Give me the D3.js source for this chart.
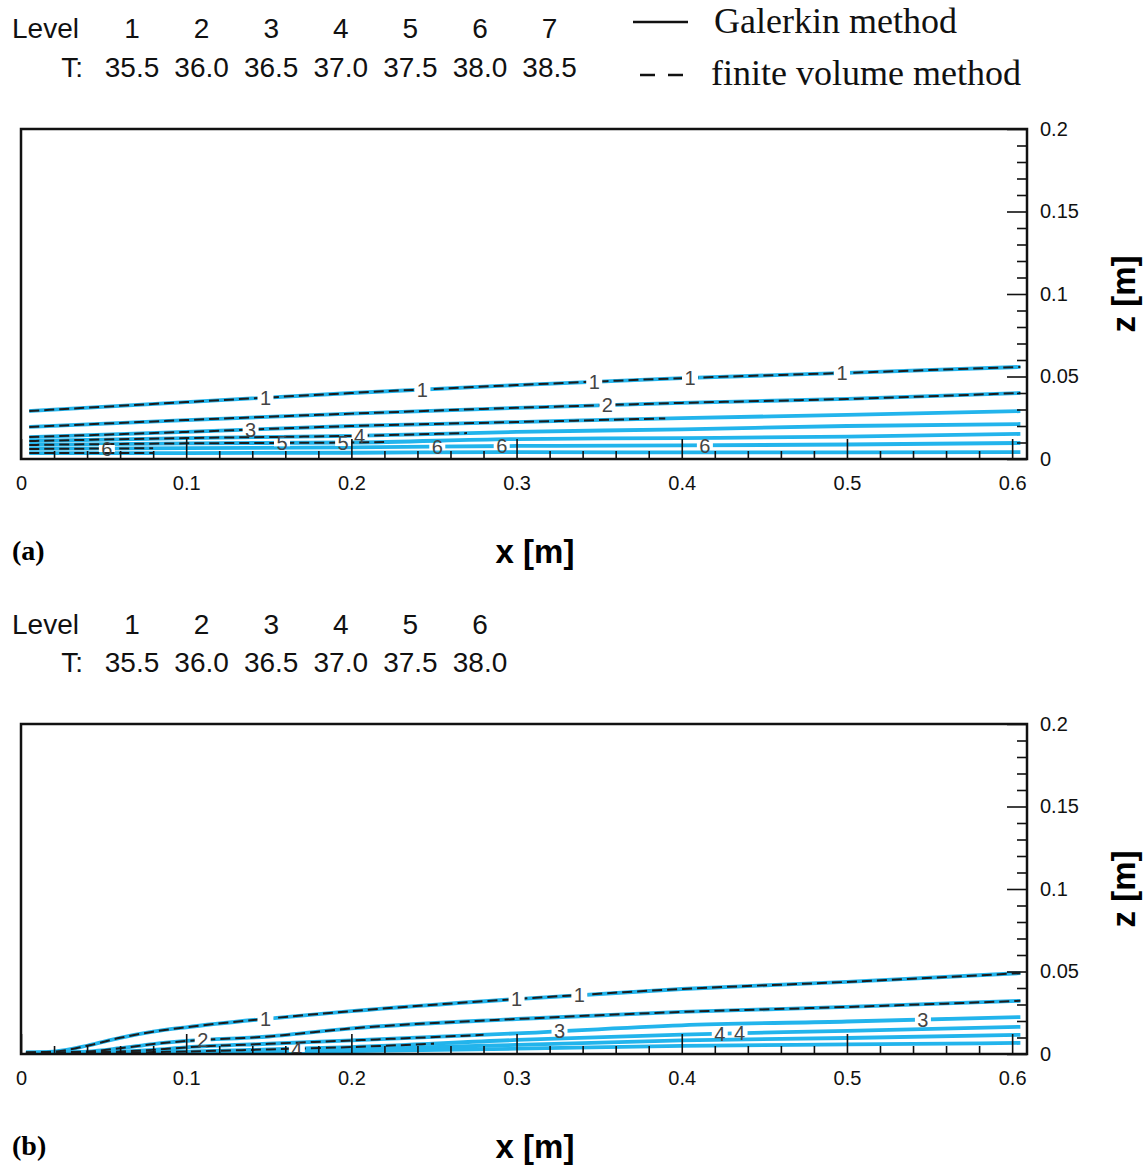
<!DOCTYPE html>
<html>
<head>
<meta charset="utf-8">
<script src="https://cdn.jsdelivr.net/npm/d3@7"></script>
<style>
  body { margin: 0; background: #fff; }
  svg { display: block; }
</style>
</head>
<body>
<script>
// legend rows
var levelsA = [1, 2, 3, 4, 5, 6, 7];
var tempsA  = ["35.5", "36.0", "36.5", "37.0", "37.5", "38.0", "38.5"];
var levelsB = [1, 2, 3, 4, 5, 6];
var tempsB  = ["35.5", "36.0", "36.5", "37.0", "37.5", "38.0"];

// axis ticks
var xTicks = [0, 0.1, 0.2, 0.3, 0.4, 0.5, 0.6];
var zTicks = [0, 0.05, 0.1, 0.15, 0.2];

// panel (a) contour lines, z [m] read at these x [m]
var xsA = [0.005, 0.1, 0.2, 0.3, 0.4, 0.5, 0.605];
var zA = [
  [0.0291, 0.0345, 0.0400, 0.0448, 0.0490, 0.0522, 0.0558],   // level 1
  [0.0194, 0.0236, 0.0275, 0.0310, 0.0340, 0.0364, 0.0400],   // level 2
  [0.0133, 0.0164, 0.0200, 0.0224, 0.0248, 0.0267, 0.0290],   // level 3
  [0.0109, 0.0127, 0.0140, 0.0164, 0.0180, 0.0200, 0.0212],   // level 4
  [0.0085, 0.0095, 0.0100, 0.0121, 0.0127, 0.0135, 0.0152],   // level 5
  [0.0061, 0.0066, 0.0070, 0.0079, 0.0082, 0.0088, 0.0097],   // level 6
  [0.0036, 0.0036, 0.0038, 0.0042, 0.0040, 0.0040, 0.0042]    // level 7
];
var dashEndA = [0.61, 0.61, 0.39, 0.27, 0.22, 0.08, 0.08];   // finite volume dashes visible up to x
var labelsA = [
  {level: 1, x: 0.148}, {level: 1, x: 0.243}, {level: 1, x: 0.347}, {level: 1, x: 0.405},
  {level: 1, x: 0.497}, {level: 2, x: 0.355}, {level: 3, x: 0.139}, {level: 4, x: 0.205},
  {level: 5, x: 0.158}, {level: 5, x: 0.195}, {level: 6, x: 0.052}, {level: 6, x: 0.252},
  {level: 6, x: 0.291}, {level: 6, x: 0.414}
];

// panel (b) contour lines
var xsB = [0.003, 0.02, 0.04, 0.06, 0.08, 0.1, 0.15, 0.2, 0.3, 0.4, 0.5, 0.605];
var zB = [
  [0.0010, 0.0015, 0.0050, 0.0098, 0.0135, 0.0162, 0.0215, 0.0260, 0.0333, 0.0394, 0.0437, 0.0490],
  [0.0008, 0.0010, 0.0015, 0.0035, 0.0060, 0.0079, 0.0106, 0.0155, 0.0212, 0.0255, 0.0285, 0.0322],
  [0.0006, 0.0008, 0.0010, 0.0015, 0.0025, 0.0040, 0.0062, 0.0082, 0.0125, 0.0174, 0.0197, 0.0224],
  [0.0005, 0.0006, 0.0007, 0.0009, 0.0012, 0.0015, 0.0028, 0.0042, 0.0085, 0.0118, 0.0140, 0.0165],
  [0.0004, 0.0004, 0.0005, 0.0006, 0.0008, 0.0010, 0.0020, 0.0030, 0.0055, 0.0082, 0.0097, 0.0116],
  [0.0003, 0.0003, 0.0003, 0.0004, 0.0005, 0.0008, 0.0012, 0.0018, 0.0032, 0.0049, 0.0058, 0.0067]
];
var dashEndB = [0.61, 0.61, 0.28, 0.25, 0, 0];
var labelsB = [
  {level: 1, x: 0.148}, {level: 1, x: 0.300}, {level: 1, x: 0.338}, {level: 2, x: 0.110},
  {level: 3, x: 0.326}, {level: 3, x: 0.546}, {level: 4, x: 0.167}, {level: 4, x: 0.423},
  {level: 4, x: 0.435}
];

var W = 1143, H = 1169;
var left = 21, right = 1027;
var sans = "'Liberation Sans', Arial, Helvetica, sans-serif";
var serif = "'Liberation Serif', 'Times New Roman', serif";
var cyan = "#22b4ec";

var svg = d3.select("body").append("svg")
    .attr("width", W)
    .attr("height", H);

var x = d3.scaleLinear().domain([0, 0.609]).range([left, right]);

// level / temperature rows above a panel
function legendRows(levels, temps, yLevel, yT) {
    var col = d3.scalePoint().domain(levels).range([132, 132 + 69.6 * (levels.length - 1)]);
    var g = svg.append("g").attr("font-family", sans).attr("font-size", 28).attr("fill", "#111");
    g.append("text").attr("x", 12).attr("y", yLevel).text("Level");
    g.append("text").attr("x", 83).attr("y", yT).attr("text-anchor", "end").text("T:");
    g.selectAll(".lv").data(levels).enter().append("text")
        .attr("x", d => col(d)).attr("y", yLevel).attr("text-anchor", "middle").text(d => d);
    g.selectAll(".tv").data(temps).enter().append("text")
        .attr("x", (d, i) => col(levels[i])).attr("y", yT).attr("text-anchor", "middle").text(d => d);
}

function panel(id, top, bottom, xs, zs, dashEnd, labels, tag) {
    var y = d3.scaleLinear().domain([0, 0.2]).range([bottom, top]);
    var g = svg.append("g");

    var clipId = "clip" + id;
    svg.append("clipPath").attr("id", clipId)
        .append("rect").attr("x", left).attr("y", top).attr("width", right - left).attr("height", bottom - top);

    var line = d3.line()
        .x((d, i) => x(xs[i]))
        .y(d => y(d))
        .curve(d3.curveMonotoneX);

    var plot = g.append("g").attr("clip-path", "url(#" + clipId + ")");

    // Galerkin method (solid cyan)
    plot.selectAll(".gal").data(zs).enter().append("path")
        .attr("d", line)
        .attr("fill", "none")
        .attr("stroke", cyan)
        .attr("stroke-width", 3.8);

    // finite volume method (dashed), only where it shows
    zs.forEach(function(z, k) {
        if (dashEnd[k] <= 0) return;
        var cid = "dclip" + id + k;
        svg.append("clipPath").attr("id", cid)
            .append("rect").attr("x", left).attr("y", top)
            .attr("width", x(Math.min(dashEnd[k], 0.609)) - left).attr("height", bottom - top);
        plot.append("path")
            .attr("d", line(z))
            .attr("clip-path", "url(#" + cid + ")")
            .attr("fill", "none")
            .attr("stroke", "#1c1c1c")
            .attr("stroke-width", 2)
            .attr("stroke-dasharray", "10,5");
    });

    // contour labels
    var lab = plot.selectAll(".lab").data(labels).enter().append("g")
        .attr("transform", function(d) {
            var f = d3.scaleLinear().domain(xs).range(zs[d.level - 1]);
            return "translate(" + x(d.x) + "," + y(f(d.x)) + ")";
        });
    lab.append("rect")
        .attr("x", -8).attr("y", -3.5).attr("width", 16).attr("height", 7)
        .attr("fill", "#fff");
    lab.append("text")
        .attr("text-anchor", "middle")
        .attr("dy", "0.36em")
        .attr("font-family", sans)
        .attr("font-size", 20)
        .attr("fill", "#444")
        .text(d => d.level);

    // x axis, ticks inside
    var fmt = d => String(+d.toFixed(2));
    var xMinor = d3.range(0, 0.61, 0.02).filter(v => Math.abs(v * 10 - Math.round(v * 10)) > 1e-6);
    g.append("g").attr("transform", "translate(0," + bottom + ")")
        .call(d3.axisBottom(x).tickValues(xMinor).tickFormat("").tickSizeInner(-8).tickSizeOuter(0))
        .call(s => s.select(".domain").remove());
    g.append("g").attr("transform", "translate(0," + bottom + ")")
        .call(d3.axisBottom(x).tickValues(xTicks).tickFormat(fmt).tickSizeInner(-20).tickSizeOuter(0).tickPadding(17))
        .call(s => s.select(".domain").remove())
        .call(s => s.selectAll("text").attr("font-family", sans).attr("font-size", 20).attr("fill", "#111"));

    // z axis on the right, ticks inside
    var zMinor = d3.range(0, 0.2001, 0.01).filter(v => Math.abs(v * 20 - Math.round(v * 20)) > 1e-6);
    g.append("g").attr("transform", "translate(" + right + ",0)")
        .call(d3.axisRight(y).tickValues(zMinor).tickFormat("").tickSizeInner(-10).tickSizeOuter(0))
        .call(s => s.select(".domain").remove());
    g.append("g").attr("transform", "translate(" + right + ",0)")
        .call(d3.axisRight(y).tickValues(zTicks).tickFormat(fmt).tickSizeInner(-20).tickSizeOuter(0).tickPadding(13))
        .call(s => s.select(".domain").remove())
        .call(s => s.selectAll("text").attr("font-family", sans).attr("font-size", 20).attr("fill", "#111"));

    g.selectAll(".tick line").attr("stroke", "#111").attr("stroke-width", 1.6);

    // frame
    g.append("rect")
        .attr("x", left).attr("y", top)
        .attr("width", right - left).attr("height", bottom - top)
        .attr("fill", "none").attr("stroke", "#111").attr("stroke-width", 2.5);

    // axis titles
    svg.append("text")
        .attr("x", 535).attr("y", bottom + 104)
        .attr("text-anchor", "middle")
        .attr("font-family", sans).attr("font-weight", "bold").attr("font-size", 33)
        .text("x [m]");
    svg.append("text")
        .attr("transform", "translate(1135," + ((top + bottom) / 2) + ") rotate(-90)")
        .attr("text-anchor", "middle")
        .attr("font-family", sans).attr("font-weight", "bold").attr("font-size", 33)
        .text("z [m]");
    svg.append("text")
        .attr("x", 12).attr("y", bottom + 101)
        .attr("font-family", serif).attr("font-weight", "bold").attr("font-size", 28)
        .text(tag);
}

legendRows(levelsA, tempsA, 38, 77);
legendRows(levelsB, tempsB, 634, 672);

// method legend
var lg = svg.append("g");
lg.append("line").attr("x1", 633).attr("x2", 688).attr("y1", 22).attr("y2", 22)
    .attr("stroke", "#111").attr("stroke-width", 2.5);
lg.append("line").attr("x1", 640).attr("x2", 684).attr("y1", 75).attr("y2", 75)
    .attr("stroke", "#111").attr("stroke-width", 2.5).attr("stroke-dasharray", "15,13");
lg.append("text").attr("x", 714).attr("y", 33)
    .attr("font-family", serif).attr("font-size", 36).attr("fill", "#111").text("Galerkin method");
lg.append("text").attr("x", 711).attr("y", 85)
    .attr("font-family", serif).attr("font-size", 36).attr("fill", "#111").text("finite volume method");

panel("A", 129, 459, xsA, zA, dashEndA, labelsA, "(a)");
panel("B", 724, 1054, xsB, zB, dashEndB, labelsB, "(b)");
</script>
</body>
</html>
